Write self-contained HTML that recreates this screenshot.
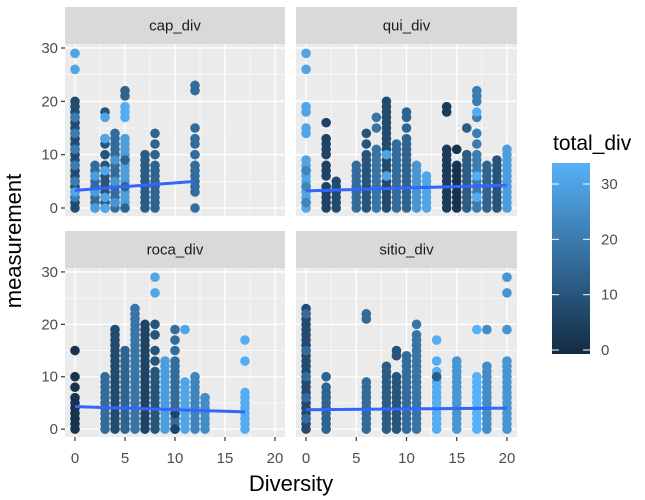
<!DOCTYPE html>
<html><head><meta charset="utf-8"><style>
html,body{margin:0;padding:0;background:#fff;}
svg{display:block;font-family:"Liberation Sans",sans-serif;}
</style></head><body>
<svg id="chart" width="645" height="500" viewBox="0 0 645 500">
<defs><linearGradient id="cbar" x1="0" y1="1" x2="0" y2="0"><stop offset="0" stop-color="#132B43"/><stop offset="1" stop-color="#56B1F7"/></linearGradient></defs>
</svg>
<script>
// data: columns [diversity, total_div colour value, measurement values]
const capCols = [
 [0,8,[0,1,2,3,4,5,6,7,8,9,10,11,12,13,14,15,16,17,18,19,20]],[0,20,[2,5,8,11,14,17]],[0,30,[26,29,3]],
 [2,16,[0,1,2,3,4,5,6,7,8]],[2,28,[0,3,6]],
 [3,10,[0,1,2,3,4,5,6,7,8,10,12,13,18]],[3,30,[0,2,7,13,17]],
 [4,16,[0,1,2,3,4,5,6,7,8,9,10,11,12,13,14]],[4,26,[1,5,9]],
 [5,28,[0,1,2,3,4,5,6,7,8,9,10,11,12,13]],[5,32,[17,18,19]],[5,14,[0,4,9,21,22]],
 [7,12,[0,1,2,3,4,5,6,7,8,9,10]],
 [8,14,[0,1,2,3,4,5,6,7,8,10,12,14]],
 [12,16,[0,3,4,5,6,7,8,10,12,13,15,22,23]]
];
const quiCols = [
 [0,30,[0,1,2,3,4,5,6,7,8,9,14,15,18,19,26,29]],[0,22,[1,4,7]],
 [2,6,[0,1,2,3,4,6,7,8,10,11,12,13,16]],[3,8,[0,1,2,3,4,5]],
 [5,16,[0,1,2,3,4,5,6,7,8]],[6,10,[0,1,2,3,4,5,6,7,8,9,10,12,14]],
 [7,18,[0,1,2,3,4,5,6,7,8,9,10,11,15,17]],[8,8,[0,1,2,3,4,5,6,7,8,9,10,11,12,13,14,15,16,17,18,19,20]],[8,30,[6,10]],
 [9,16,[0,1,2,3,4,5,6,7,8,9,10,11,12]],[10,14,[0,1,2,3,4,5,6,7,8,9,10,11,12,13,15,17,18]],
 [11,26,[0,1,2,3,4,5,6,7,8]],[12,30,[0,1,2,3,4,5,6]],
 [14,4,[0,1,2,3,4,5,6,7,8,9,10,11,18,19]],[15,2,[0,1,2,3,4,5,6,7,8,11]],
 [16,12,[0,1,2,3,4,5,6,7,8,9,10,15]],[17,20,[0,1,2,3,4,5,6,7,8,9,10,12,14,17,20,21,22]],[17,32,[2,6,18]],
 [18,14,[0,1,2,3,4,5,6,7,8]],[19,10,[0,1,2,3,4,5,6,7,8,9]],[20,28,[0,1,2,3,4,5,6,7,8,9,10,11]]
];
const rocaCols = [
 [0,2,[0,1,2,3,4,5,6,8,10,15]],
 [3,16,[0,1,2,3,4,5,6,7,8,9,10]],[4,8,[0,1,2,3,4,5,6,7,8,9,10,11,12,13,14,15,16,17,18,19]],
 [5,14,[0,1,2,3,4,5,6,7,8,9,10,11,12,13,14,15]],[6,18,[0,1,2,3,4,5,6,7,8,9,10,11,12,13,14,15,16,17,18,19,20,21,22,23]],
 [7,6,[0,1,2,3,4,5,6,7,8,9,10,11,12,13,14,15,16,17,18,19,20]],[8,10,[0,1,2,3,4,5,6,7,8,9,10,11,13,15,18,20]],[8,30,[26,29]],
 [9,28,[0,1,2,3,4,5,6,7,8,9,10,11,12,13]],[10,16,[0,1,2,3,4,5,6,7,8,9,10,11,12,13,15,17,19]],[10,6,[0,3]],
 [11,30,[0,1,2,3,4,5,6,7,8,9,19]],[12,22,[0,1,2,3,4,5,6,7,8,9,10]],[13,24,[0,1,2,3,4,5,6]],
 [17,32,[0,1,2,3,4,5,6,7,13,17]]
];
const sitioCols = [
 [0,8,[0,1,2,3,4,5,6,7,8,9,10,11,12,13,14,15,16,17,18,19,20,21,22,23]],[0,16,[2,6,10,15,22]],
 [2,14,[0,1,2,3,4,5,6,7,8,10]],[6,16,[0,1,2,3,4,5,6,7,8,9,21,22]],
 [8,12,[0,1,2,3,4,5,6,7,8,9,10,11,12]],[9,10,[0,1,2,3,4,5,6,7,8,9,10,14,15]],
 [10,16,[0,1,2,3,4,5,6,7,8,9,10,11,12,13,14]],[11,18,[0,1,2,3,4,5,6,7,8,9,10,11,12,13,14,15,16,17,18,20]],
 [13,32,[0,1,2,3,4,5,6,7,8,9,10,11,13,17]],[13,12,[10]],[15,26,[0,1,2,3,4,5,6,7,8,9,10,11,12,13]],
 [17,33,[0,1,2,3,4,5,6,7,8,9,10,19]],[18,24,[0,1,2,3,4,5,6,7,8,9,10,11,12,19]],
 [20,26,[0,1,2,3,4,5,6,7,8,9,10,11,12,13,19,26,29]]
];
const capFit = [3.3, 5.0], capFitX = [0, 12];
const quiFit = [3.2, 4.3], quiFitX = [0, 20];
const rocaFit = [4.3, 3.3], rocaFitX = [0, 17];
const sitioFit = [3.7, 4.0], sitioFitX = [0, 20];
const xTicks = [0, 5, 10, 15, 20];
const yTicks = [0, 10, 20, 30];
const legendTicks = [0, 10, 20, 30];
const panelNames = ["cap_div","qui_div","roca_div","sitio_div"];

const NS="http://www.w3.org/2000/svg";
const svg=document.getElementById('chart');
function mk(tag,attrs,parent){const e=document.createElementNS(NS,tag);for(const k in attrs)e.setAttribute(k,attrs[k]);(parent||svg).appendChild(e);return e;}
function hex(v){const a=[0x13,0x2B,0x43],b=[0x56,0xB1,0xF7];const t=Math.max(0,Math.min(1,v/33));return 'rgb('+a.map((c,i)=>Math.round(c+(b[i]-c)*t)).join(',')+')';}
const XD=[-1,21], YD=[-1.5,30.75];
const panels=[
 {name:panelNames[0],cols:capCols,fit:capFit,fx:capFitX,l:65,r:285,st:7,t:44,b:216,row:0,col:0},
 {name:panelNames[1],cols:quiCols,fit:quiFit,fx:quiFitX,l:296,r:517,st:7,t:44,b:216,row:0,col:1},
 {name:panelNames[2],cols:rocaCols,fit:rocaFit,fx:rocaFitX,l:65,r:285,st:231,t:268,b:437,row:1,col:0},
 {name:panelNames[3],cols:sitioCols,fit:sitioFit,fx:sitioFitX,l:296,r:517,st:231,t:268,b:437,row:1,col:1}
];
panels.forEach(p=>{
 const sx=v=>p.l+(v-XD[0])/(XD[1]-XD[0])*(p.r-p.l);
 const sy=v=>p.b-(v-YD[0])/(YD[1]-YD[0])*(p.b-p.t);
 const g=mk('g',{});
 
 
 const strip=mk('rect',{x:p.l,y:p.st,width:p.r-p.l,height:p.t-p.st,fill:'#D9D9D9'},g);
 
 
 const st=mk('text',{x:(p.l+p.r)/2,y:(p.st+p.t)/2+5,'text-anchor':'middle','font-size':15,fill:'#1A1A1A'},g);
 st.textContent=p.name;
 
 
 const bg=mk('rect',{x:p.l,y:p.t,width:p.r-p.l,height:p.b-p.t,fill:'#EBEBEB'},g);
 
 
 for(let v=2.5;v<=20;v+=5)mk('line',{x1:sx(v),x2:sx(v),y1:p.t,y2:p.b,stroke:'#fff','stroke-width':0.6},g);
 for(let v=5;v<=25;v+=10)mk('line',{x1:p.l,x2:p.r,y1:sy(v),y2:sy(v),stroke:'#fff','stroke-width':0.6},g);
 xTicks.forEach(v=>mk('line',{x1:sx(v),x2:sx(v),y1:p.t,y2:p.b,stroke:'#fff','stroke-width':1.3},g));
 yTicks.forEach(v=>mk('line',{x1:p.l,x2:p.r,y1:sy(v),y2:sy(v),stroke:'#fff','stroke-width':1.3},g));
 p.cols.forEach(c=>{c[2].forEach(y=>{
   const pt=mk('circle',{cx:sx(c[0]),cy:sy(y),r:4.8,fill:hex(c[1])},g);
   
   
 });});
 const fl=mk('line',{x1:sx(p.fx[0]),y1:sy(p.fit[0]),x2:sx(p.fx[1]),y2:sy(p.fit[1]),stroke:'#3366FF','stroke-width':3},g);
 
 
 if(p.col===0){yTicks.forEach(v=>{
   mk('line',{x1:p.l-4,x2:p.l,y1:sy(v),y2:sy(v),stroke:'#333','stroke-width':1.2},g);
   const t=mk('text',{x:p.l-7,y:sy(v)+5,'text-anchor':'end','font-size':15,fill:'#4D4D4D'},g);
   t.textContent=v;
   
   
 });}
 if(p.row===1){xTicks.forEach(v=>{
   mk('line',{x1:sx(v),x2:sx(v),y1:p.b,y2:p.b+4,stroke:'#333','stroke-width':1.2},g);
   const t=mk('text',{x:sx(v),y:p.b+26,'text-anchor':'middle','font-size':15,fill:'#4D4D4D'},g);
   t.textContent=v;
   
   
 });}
});
const xt=mk('text',{x:291,y:491,'text-anchor':'middle','font-size':22,fill:'#000'});
xt.textContent='Diversity';


const yt=mk('text',{x:0,y:0,'text-anchor':'middle','font-size':22,fill:'#000',transform:'translate(21,241) rotate(-90)'});
yt.textContent='measurement';


// legend
const L={x:552,w:38,top:163,bot:354,v0y:350,v30y:184};
const ly=v=>L.v0y+(L.v30y-L.v0y)*v/30;
const lt=mk('text',{x:553,y:150,'font-size':21,fill:'#000'});
lt.textContent='total_div';


const cb=mk('rect',{x:L.x,y:L.top,width:L.w,height:L.bot-L.top,fill:'url(#cbar)'});


legendTicks.forEach(v=>{
 mk('line',{x1:L.x,x2:L.x+7,y1:ly(v),y2:ly(v),stroke:'#fff','stroke-width':1});
 mk('line',{x1:L.x+L.w-7,x2:L.x+L.w,y1:ly(v),y2:ly(v),stroke:'#fff','stroke-width':1});
 const t=mk('text',{x:601,y:ly(v)+5,'font-size':15,fill:'#4D4D4D'});
 t.textContent=v;
 
 
});
</script>
</body></html>
